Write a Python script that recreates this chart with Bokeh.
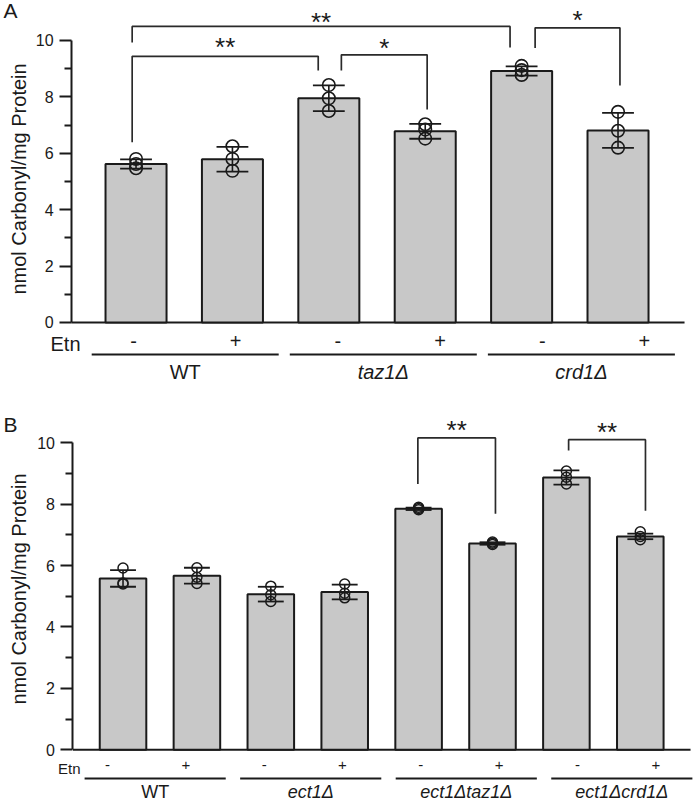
import numpy as np
from bokeh.plotting import figure
from bokeh.models import Range1d, FixedTicker
from bokeh.layouts import column
from bokeh.embed import file_html
from bokeh.resources import INLINE
from bokeh.core.properties import value

FONT = "Liberation Sans"
INK = "#1a1a1a"
FILL = "#c8c8c8"

Y_LABEL = "nmol Carbonyl/mg Protein"
Y_TICKS = [0, 2, 4, 6, 8, 10]
Y_MINOR = [1, 3, 5, 7, 9]
ETN_LABEL = "Etn"

# ---------------- Panel A data ----------------
A_etn = ["-", "+", "-", "+", "-", "+"]
A_groups = ["WT", "taz1Δ", "crd1Δ"]
A_group_style = ["normal", "italic", "italic"]
A_mean = [5.62, 5.79, 7.95, 6.78, 8.92, 6.81]
A_sd = [0.165, 0.44, 0.455, 0.265, 0.165, 0.62]
A_points = [[5.80, 5.62, 5.47], [6.25, 5.80, 5.38], [8.42, 7.95, 7.50],
            [7.03, 6.84, 6.52], [9.10, 8.95, 8.78], [7.47, 6.80, 6.20]]
A_sig_from = [0, 0, 2, 4]
A_sig_to = [2, 4, 3, 5]
A_sig_mark = ["**", "**", "*", "*"]

# ---------------- Panel B data ----------------
B_etn = ["-", "+", "-", "+", "-", "+", "-", "+"]
B_groups = ["WT", "ect1Δ", "ect1Δtaz1Δ", "ect1Δcrd1Δ"]
B_group_style = ["normal", "italic", "italic", "italic"]
B_mean = [5.58, 5.67, 5.07, 5.14, 7.85, 6.72, 8.87, 6.95]
B_sd = [0.27, 0.26, 0.24, 0.24, 0.04, 0.04, 0.23, 0.09]
B_points = [[5.92, 5.43, 5.40], [5.93, 5.62, 5.42], [5.33, 5.05, 4.83], [5.40, 5.10, 4.95],
            [7.90, 7.86, 7.82], [6.77, 6.73, 6.69], [9.08, 8.88, 8.66], [7.10, 6.95, 6.84]]
B_sig_from = [4, 6]
B_sig_to = [5, 7]
B_sig_mark = ["**", "**"]

# ---------------- layout / style ----------------
A_cfg = dict(
    letter="A", width=693, height=385, xr=(-1.406, 5.783), yr=(-2.234, 11.418),
    axis_x=-0.669, base_end=5.69,
    bar_w=0.633, cap=0.165, dot=12.5, dot_lw=1.6,
    br_dxl=[-0.04, -0.04, 0.13, 0.14], br_dxr=[-0.11, -0.12, 0.02, 0.02],
    br_top=[9.44, 10.50, 9.49, 10.45], br_footl=[6.39, 9.93, 8.94, 9.73],
    br_footr=[8.94, 9.75, 7.55, 8.40], star_y=[9.91, 10.80, 9.89, 10.89], star_fs=26,
    sign_x0=-0.026, sign_step=1.06, sign_y=-0.67, sign_fs=20,
    etn_x=-0.576, etn_y=-0.78, etn_fs=20,
    gl_x0=-0.46, gl_step=2.055, gl_len=1.94, gl_y=-1.135,
    gtxt_y=-1.77, gtxt_fs=20,
    letter_x=-1.375, letter_y=11.06, letter_fs=21,
    ylab_x=-1.219, ylab_y=5.09, ylab_fs=20,
)
B_cfg = dict(
    letter="B", width=693, height=419, xr=(-1.658, 7.72), yr=(-1.782, 11.866),
    axis_x=-0.677, base_end=7.68,
    bar_w=0.63, cap=0.175, dot=10, dot_lw=1.5,
    br_dxl=[-0.01, 0.03], br_dxr=[0.04, 0.07],
    br_top=[10.16, 10.10], br_footl=[8.66, 9.75],
    br_footr=[7.69, 7.79], star_y=[10.56, 10.50], star_fs=26,
    sign_x0=-0.21, sign_step=1.06, sign_y=-0.49, sign_fs=15,
    etn_x=-0.575, etn_y=-0.61, etn_fs=15,
    gl_x0=-0.52, gl_step=2.105, gl_len=1.91, gl_y=-0.935,
    gtxt_y=-1.37, gtxt_fs=18,
    letter_x=-1.618, letter_y=10.58, letter_fs=21,
    ylab_x=-1.414, ylab_y=5.24, ylab_fs=20,
)


def text_at(p, ppu, xs, yc, texts, fs, k=0.0, style="normal", align="center"):
    """Draw text whose visual centre is at yc (k = centre offset in em above 'middle')."""
    if np.isscalar(yc):
        yc = [yc] * len(xs)
    ya = [y - k * fs / ppu for y in yc]
    p.text(x=list(xs), y=ya, text=list(texts), text_align=align, text_baseline="middle",
           text_font=value(FONT), text_font_size=f"{fs}px", text_font_style=style,
           text_color=INK)


def build(cfg, mean, sd, points, etn, groups, gstyle, sfrom, sto, marks):
    n = len(mean)
    xs = list(range(n))
    p = figure(width=cfg["width"], height=cfg["height"],
               x_range=Range1d(*cfg["xr"]), y_range=Range1d(*cfg["yr"]),
               output_backend="svg", toolbar_location=None, x_axis_location=None,
               y_axis_location="left", min_border_left=0, min_border_right=0,
               min_border_top=0, min_border_bottom=0,
               background_fill_color="white", border_fill_color="white",
               outline_line_color=None)
    p.grid.visible = False
    ppu = cfg["height"] / (cfg["yr"][1] - cfg["yr"][0])

    ax = p.yaxis[0]
    ax.fixed_location = cfg["axis_x"]
    ax.ticker = FixedTicker(ticks=Y_TICKS, minor_ticks=Y_MINOR)
    ax.bounds = (0, 10)
    ax.axis_line_color = INK
    ax.axis_line_width = 2
    ax.major_tick_line_color = INK
    ax.major_tick_line_width = 2
    ax.minor_tick_line_color = INK
    ax.minor_tick_line_width = 2
    ax.major_tick_out = 12
    ax.major_tick_in = 0
    ax.minor_tick_out = 7
    ax.minor_tick_in = 0
    ax.major_label_standoff = 6
    ax.major_label_text_font = FONT
    ax.major_label_text_font_size = "16px"
    ax.major_label_text_color = INK

    # baseline (x axis line)
    p.segment(x0=[cfg["axis_x"]], y0=[0], x1=[cfg["base_end"]], y1=[0],
              line_color=INK, line_width=2)

    # bars
    p.vbar(x=xs, top=mean, bottom=0, width=cfg["bar_w"], fill_color=FILL,
           line_color=INK, line_width=2)

    # error bars (mean +/- SD)
    lo = [m - s for m, s in zip(mean, sd)]
    hi = [m + s for m, s in zip(mean, sd)]
    c = cfg["cap"]
    p.segment(x0=xs, y0=lo, x1=xs, y1=hi, line_color=INK, line_width=1.6)
    p.segment(x0=[x - c for x in xs], y0=hi, x1=[x + c for x in xs], y1=hi,
              line_color=INK, line_width=1.8)
    p.segment(x0=[x - c for x in xs], y0=lo, x1=[x + c for x in xs], y1=lo,
              line_color=INK, line_width=1.8)

    # individual replicates
    px = [i for i, pts in enumerate(points) for _ in pts]
    py = [v for pts in points for v in pts]
    p.scatter(px, py, marker="circle", size=cfg["dot"], fill_color=None,
              line_color=INK, line_width=cfg["dot_lw"])

    # significance brackets
    bxs, bys, mids = [], [], []
    for f, t, dl, dr, top, fl, fr in zip(sfrom, sto, cfg["br_dxl"], cfg["br_dxr"],
                                         cfg["br_top"], cfg["br_footl"], cfg["br_footr"]):
        xl, xr = f + dl, t + dr
        bxs.append([xl, xl, xr, xr])
        bys.append([fl, top, top, fr])
        mids.append((xl + xr) / 2)
    p.multi_line(xs=bxs, ys=bys, line_color="#2a2a2a", line_width=1.7)
    text_at(p, ppu, mids, cfg["star_y"], marks, cfg["star_fs"], 0.17)

    # Etn +/- row
    sx = [cfg["sign_x0"] + cfg["sign_step"] * i for i in range(n)]
    text_at(p, ppu, sx, cfg["sign_y"], etn, cfg["sign_fs"])
    text_at(p, ppu, [cfg["etn_x"]], cfg["etn_y"], [ETN_LABEL], cfg["etn_fs"], align="right")

    # group lines and names
    g = len(groups)
    gx0 = [cfg["gl_x0"] + cfg["gl_step"] * k for k in range(g)]
    gx1 = [x + cfg["gl_len"] for x in gx0]
    p.segment(x0=gx0, y0=[cfg["gl_y"]] * g, x1=gx1, y1=[cfg["gl_y"]] * g,
              line_color=INK, line_width=2)
    gc = [(a + b) / 2 for a, b in zip(gx0, gx1)]
    for style in ("normal", "italic"):
        sel = [k for k in range(g) if gstyle[k] == style]
        if sel:
            text_at(p, ppu, [gc[k] for k in sel], cfg["gtxt_y"], [groups[k] for k in sel],
                    cfg["gtxt_fs"], style=style)

    # y axis title (rotated)
    p.text(x=[cfg["ylab_x"]], y=[cfg["ylab_y"]], text=[Y_LABEL], angle=np.pi / 2,
           text_align="center", text_baseline="middle", text_font=value(FONT),
           text_font_size=f"{cfg['ylab_fs']}px", text_color=INK)
    # panel letter
    text_at(p, ppu, [cfg["letter_x"]], cfg["letter_y"], [cfg["letter"]], cfg["letter_fs"],
            align="left")
    return p


pA = build(A_cfg, A_mean, A_sd, A_points, A_etn, A_groups, A_group_style,
           A_sig_from, A_sig_to, A_sig_mark)
pB = build(B_cfg, B_mean, B_sd, B_points, B_etn, B_groups, B_group_style,
           B_sig_from, B_sig_to, B_sig_mark)

page = column(pA, pB, spacing=0)
html = file_html(page, INLINE, title="Protein carbonylation")
open("out.html", "w", encoding="utf-8").write(html)
